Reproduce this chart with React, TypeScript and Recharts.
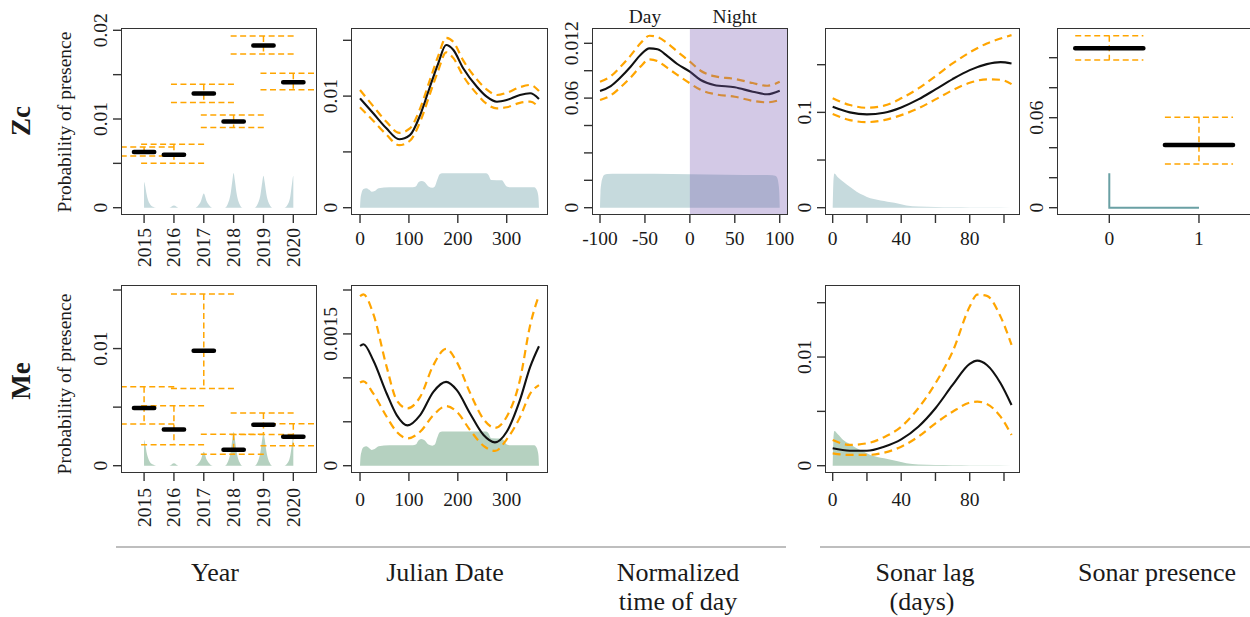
import React from 'react';
import { ComposedChart, Line, Area, XAxis, YAxis, ReferenceArea } from 'recharts';

const FONT = '"Liberation Serif", "Times New Roman", serif';
const INK = '#1a1a1a';
const ORANGE = '#FFA500';
const ZC_FILL = '#c6dadd';
const ME_FILL = '#b5d1c0';
const TEAL_LINE = '#6aa0a4';

// ---------------- Year (factor) ----------------
const years = [2015, 2016, 2017, 2018, 2019, 2020];
const yearLabels = ['2015', '2016', '2017', '2018', '2019', '2020'];
const zcYearFit = [0.00627, 0.00597, 0.01288, 0.00973, 0.01829, 0.01415];
const zcYearUp = [0.00684, 0.00714, 0.01393, 0.01044, 0.01937, 0.01517];
const zcYearLo = [0.00582, 0.005, 0.01187, 0.00905, 0.01734, 0.01329];
const meYearFit = [0.00492, 0.0031, 0.00981, 0.00137, 0.0035, 0.00247];
const meYearUp = [0.00674, 0.00512, 0.01465, 0.00268, 0.0045, 0.00358];
const meYearLo = [0.00356, 0.00179, 0.0066, 0.00097, 0.00266, 0.0017];

const yearDensX = [2014.999, 2015, 2015.04, 2015.08, 2015.13, 2015.2, 2015.3, 2015.4, 2015.85, 2016, 2016.15, 2016.7, 2016.8, 2016.9, 2017, 2017.1, 2017.2, 2017.3, 2017.7, 2017.8, 2017.9, 2017.96, 2018, 2018.04, 2018.1, 2018.2, 2018.3, 2018.7, 2018.8, 2018.9, 2018.96, 2019, 2019.04, 2019.1, 2019.2, 2019.3, 2019.7, 2019.8, 2019.9, 2019.96, 2020, 2020.001];
const zcYearDensY = [0, 0.0029, 0.0024, 0.0016, 0.0009, 0.0004, 0.0001, 0, 0, 0.00025, 0, 0, 0.0002, 0.0007, 0.0016, 0.0007, 0.0002, 0, 0, 0.0004, 0.0016, 0.0031, 0.0039, 0.0031, 0.0016, 0.0004, 0, 0, 0.0004, 0.0015, 0.0029, 0.0036, 0.0029, 0.0015, 0.0004, 0, 0, 0.0003, 0.0013, 0.0028, 0.0036, 0];
const meYearDensY = [0, 0.0022, 0.0018, 0.0012, 0.0007, 0.0003, 0.0001, 0, 0, 0.0002, 0, 0, 0.00015, 0.0005, 0.0012, 0.0005, 0.00015, 0, 0, 0.0003, 0.0012, 0.0023, 0.0029, 0.0023, 0.0012, 0.0003, 0, 0, 0.0003, 0.0012, 0.0023, 0.0028, 0.0023, 0.0012, 0.0003, 0, 0, 0.0002, 0.0009, 0.0019, 0.0025, 0];

// ---------------- Julian date ----------------
const julX = [0, 27, 54, 80, 102, 123, 143, 160, 176, 191, 211, 239, 259, 280, 300, 327, 348, 366];
const zcJulFit = [0.0098, 0.00846, 0.00711, 0.00613, 0.0065, 0.0083, 0.01084, 0.01294, 0.01458, 0.01413, 0.01249, 0.01084, 0.00995, 0.0095, 0.00965, 0.0101, 0.01025, 0.00974];
const zcJulUp = [0.01055, 0.0091, 0.0077, 0.0067, 0.0071, 0.0089, 0.01145, 0.0136, 0.01522, 0.01485, 0.0132, 0.0115, 0.0106, 0.0101, 0.0103, 0.0108, 0.011, 0.01045];
const zcJulLo = [0.009, 0.0078, 0.00655, 0.0056, 0.006, 0.0077, 0.0102, 0.0123, 0.01392, 0.0134, 0.0118, 0.0102, 0.0093, 0.0089, 0.009, 0.0094, 0.0095, 0.009];

const meJulX = [0, 7, 27, 54.5, 75, 97, 123, 150, 176, 198, 225, 252.6, 276, 300, 327, 348, 366];
const meJulFit = [0.001363, 0.001383, 0.0012, 0.000822, 0.000576, 0.000459, 0.000576, 0.000841, 0.000954, 0.00086, 0.000595, 0.000349, 0.000266, 0.000386, 0.000746, 0.001125, 0.00136];
const meJulUp = [0.00193, 0.00195, 0.00173, 0.001125, 0.000746, 0.000652, 0.000784, 0.001144, 0.00133, 0.00118, 0.00083, 0.00053, 0.00043, 0.000557, 0.000974, 0.0016, 0.00194];
const meJulLo = [0.000947, 0.00096, 0.000822, 0.000557, 0.000386, 0.000311, 0.000386, 0.000576, 0.000678, 0.000613, 0.000406, 0.000227, 0.000168, 0.0003, 0.00055, 0.00082, 0.000917];

const julDensX = [0, 1, 3, 7, 13, 19, 24, 30, 38, 60, 108, 114, 120, 126, 132, 140, 148, 153, 158, 163, 168, 258, 263, 268, 290, 295, 300, 306, 356, 360, 363, 365, 366];
const zcJulDensY = [0, 0.0008, 0.0013, 0.00168, 0.00175, 0.0016, 0.00143, 0.0015, 0.00175, 0.00183, 0.00183, 0.0019, 0.0023, 0.00239, 0.0023, 0.0019, 0.00179, 0.0019, 0.0025, 0.003, 0.00308, 0.00308, 0.0029, 0.00248, 0.00245, 0.0022, 0.0019, 0.00183, 0.00183, 0.0017, 0.0014, 0.0009, 0];
const meJulDensY = [0, 0.0001, 0.00016, 0.00021, 0.00022, 0.0002, 0.00018, 0.00019, 0.00022, 0.000232, 0.000232, 0.00024, 0.00029, 0.000305, 0.00029, 0.00024, 0.000228, 0.00024, 0.00032, 0.00038, 0.000388, 0.000388, 0.000366, 0.000313, 0.00031, 0.00028, 0.00024, 0.000232, 0.000232, 0.000215, 0.000177, 0.000114, 0];

// ---------------- Normalized time of day ----------------
const todX = [-100, -88, -77, -66, -55, -45, -36, -25, -14, 0, 12, 27, 50, 70, 86, 100];
const zcTodFit = [0.00852, 0.00888, 0.00952, 0.01029, 0.01115, 0.01163, 0.01156, 0.01107, 0.01049, 0.00993, 0.00932, 0.00896, 0.00879, 0.00847, 0.00828, 0.00854];
const zcTodUp = [0.0092, 0.0096, 0.0103, 0.0111, 0.012, 0.01255, 0.01245, 0.012, 0.0114, 0.01066, 0.01, 0.0096, 0.0094, 0.0091, 0.0089, 0.0092];
const zcTodLo = [0.00786, 0.0082, 0.0088, 0.0095, 0.0103, 0.01083, 0.0107, 0.0102, 0.0097, 0.00908, 0.0086, 0.0083, 0.0081, 0.0078, 0.00769, 0.00786];
const todDensX = [-100, -99.5, -98.5, -97, -95, -92, -80, -40, 0, 40, 80, 92, 95, 97, 98.5, 99.5, 100];
const zcTodDensY = [0, 0.0011, 0.0018, 0.0022, 0.0024, 0.00246, 0.00248, 0.00248, 0.00245, 0.0024, 0.00238, 0.00237, 0.00233, 0.0022, 0.0018, 0.0011, 0];
const nightStart = 0;

// ---------------- Sonar lag ----------------
const lagX = [0, 10, 20, 30, 40, 50, 60, 70, 80, 90, 98, 104.4];
const zcLagFit = [0.1058, 0.1, 0.0979, 0.0996, 0.1052, 0.1136, 0.1241, 0.1349, 0.1443, 0.1506, 0.1527, 0.1513];
const zcLagUp = [0.1147, 0.1077, 0.1048, 0.107, 0.1147, 0.1251, 0.138, 0.1513, 0.1629, 0.1723, 0.1775, 0.181];
const zcLagLo = [0.0982, 0.0919, 0.0898, 0.0919, 0.0971, 0.1042, 0.1136, 0.1233, 0.131, 0.1346, 0.1342, 0.1296];
const meLagX = [0, 10, 20, 30, 40, 50, 60, 70, 80, 84.4, 90, 98, 104.4];
const meLagFit = [0.0016, 0.00138, 0.00138, 0.00175, 0.00243, 0.00359, 0.00529, 0.00743, 0.00937, 0.00967, 0.00927, 0.00759, 0.00559];
const meLagUp = [0.00237, 0.00191, 0.00206, 0.00262, 0.00359, 0.00529, 0.00759, 0.0105, 0.01464, 0.01575, 0.01563, 0.01372, 0.01112];
const meLagLo = [0.00114, 0.00099, 0.00099, 0.0012, 0.00175, 0.00267, 0.0039, 0.00497, 0.0058, 0.00589, 0.00568, 0.00451, 0.00283];
const lagDensX = [0, 0.5, 1, 3, 6, 10, 14, 18, 22, 26, 30, 34, 38, 43, 50, 60, 70, 80, 90, 104.4];
const zcLagDensY = [0, 0.03, 0.036, 0.032, 0.0275, 0.022, 0.0168, 0.013, 0.0098, 0.0084, 0.007, 0.0057, 0.0044, 0.0024, 0.0013, 0.0008, 0.0005, 0.0003, 0.0001, 0];
const meLagDensY = [0, 0.0027, 0.0032, 0.0029, 0.0024, 0.002, 0.0016, 0.0013, 0.00098, 0.0008, 0.00068, 0.00055, 0.0004, 0.00022, 0.0001, 0.00006, 0.00004, 0.00002, 0.00001, 0];

// ---------------- Sonar presence (factor) ----------------
const presLevels = [0, 1];
const presLabels = ['0', '1'];
const zcPresFit = [0.1063, 0.0418];
const zcPresUp = [0.1147, 0.0603];
const zcPresLo = [0.0985, 0.0291];
const presDensX = [0, 0, 1];
const presDensY = [0.0229, 0, 0];

// ---------------- helpers ----------------
type Row = { x: number; y: number | null };
const rows = (xs: number[], ys: number[]): Row[] => xs.map((x, i) => ({ x, y: ys[i] }));
const ciRows = (xs: number[], up: number[], lo: number[], half: number): Row[] => {
  const r: Row[] = [];
  xs.forEach((x, i) => {
    r.push({ x: x - half, y: up[i] }, { x: x + half, y: up[i] }, { x: x + half, y: null });
    r.push({ x, y: up[i] }, { x, y: lo[i] }, { x, y: null });
    r.push({ x: x - half, y: lo[i] }, { x: x + half, y: lo[i] }, { x: x + half, y: null });
  });
  return r;
};
const barRows = (xs: number[], fit: number[], half: number): Row[] => {
  const r: Row[] = [];
  xs.forEach((x, i) => {
    r.push({ x: x - half, y: fit[i] }, { x: x + half, y: fit[i] }, { x: x + half, y: null });
  });
  return r;
};

const ML = 50, MR = 10, MT = 30, XH = 70;

type PanelProps = {
  left: number; top: number; right: number; bottom: number;
  xDomain: [number, number]; yDomain: [number, number];
  xTicks: number[]; xLabels: string[];
  yTicks: number[]; yLabels: string[];
  rotateX?: boolean; xGap: number;
  topTicks?: number[]; topLabels?: string[];
  overlay?: React.ReactNode;
  children: React.ReactNode;
};

function Panel(p: PanelProps) {
  const boxW = p.right - p.left;
  const boxH = p.bottom - p.top;
  const W = ML + boxW + MR;
  const H = MT + boxH + XH;
  const yTick = (props: any) => {
    const i = p.yTicks.indexOf(props.payload.value);
    const t = i >= 0 ? p.yLabels[i] : '';
    const bx = ML - 15;
    if (!t) return <g />;
    return (
      <text x={bx} y={props.y} transform={`rotate(-90 ${bx} ${props.y})`} textAnchor="middle"
        fontFamily={FONT} fontSize={19.5} fill={INK}>{t}</text>
    );
  };
  const xTick = (props: any) => {
    const i = p.xTicks.indexOf(props.payload.value);
    const t = i >= 0 ? p.xLabels[i] : '';
    if (!t) return <g />;
    if (p.rotateX) {
      const bx = props.x + 6.5;
      const by = MT + boxH + p.xGap;
      return (
        <text x={bx} y={by} transform={`rotate(-90 ${bx} ${by})`} textAnchor="end"
          fontFamily={FONT} fontSize={19.5} fill={INK}>{t}</text>
      );
    }
    return (
      <text x={props.x} y={MT + boxH + p.xGap} textAnchor="middle" fontFamily={FONT} fontSize={19.5} fill={INK}>{t}</text>
    );
  };
  const topTick = (props: any) => {
    const ticks = p.topTicks || [];
    const i = ticks.indexOf(props.payload.value);
    const t = i >= 0 && p.topLabels ? p.topLabels[i] : '';
    return <text x={props.x} y={MT - 6} textAnchor="middle" fontFamily={FONT} fontSize={19.5} fill={INK}>{t}</text>;
  };
  return (
    <div style={{ position: 'absolute', left: p.left - ML, top: p.top - MT, width: W, height: H }}>
      <ComposedChart width={W} height={H} margin={{ top: p.topTicks ? 0 : MT, right: MR, left: 0, bottom: 0 }}>
        <XAxis type="number" dataKey="x" domain={p.xDomain} allowDataOverflow ticks={p.xTicks} interval={0}
          tickSize={9} axisLine={false} tickLine={{ stroke: '#333', strokeWidth: 1.4 }} height={XH} tick={xTick} />
        {p.topTicks && (
          <XAxis xAxisId="top" orientation="top" type="number" dataKey="x" domain={p.xDomain} allowDataOverflow
            ticks={p.topTicks} interval={0} axisLine={false} tickLine={false} height={MT} tick={topTick} />
        )}
        <YAxis type="number" domain={p.yDomain} allowDataOverflow ticks={p.yTicks} interval={0} width={ML}
          tickSize={9} axisLine={false} tickLine={{ stroke: '#333', strokeWidth: 1.4 }} tick={yTick} />
        {p.children}
      </ComposedChart>
      {p.overlay && (
        <div style={{ position: 'absolute', left: 0, top: 0, pointerEvents: 'none' }}>
          <ComposedChart width={W} height={H} margin={{ top: MT, right: MR, left: 0, bottom: 0 }}>
            <XAxis type="number" dataKey="x" domain={p.xDomain} allowDataOverflow ticks={p.xTicks}
              tick={false} tickLine={false} axisLine={false} height={XH} />
            <YAxis type="number" domain={p.yDomain} allowDataOverflow ticks={p.yTicks}
              tick={false} tickLine={false} axisLine={false} width={ML} />
            {p.overlay}
          </ComposedChart>
        </div>
      )}
      <div style={{
        position: 'absolute', left: ML - 0.75, top: MT - 0.75, width: boxW + 1.5, height: boxH + 1.5,
        border: '1.5px solid #333', boxSizing: 'border-box', pointerEvents: 'none'
      }} />
    </div>
  );
}

const densArea = (data: Row[], color: string) => (
  <Area data={data} dataKey="y" type="monotone" stroke="none" fill={color} fillOpacity={1}
    baseValue={0} isAnimationActive={false} dot={false} activeDot={false} />
);
const fitLine = (data: Row[]) => (
  <Line data={data} dataKey="y" type="monotone" stroke="#111" strokeWidth={2.1} dot={false}
    activeDot={false} isAnimationActive={false} />
);
const ciLine = (data: Row[]) => (
  <Line data={data} dataKey="y" type="monotone" stroke={ORANGE} strokeWidth={2.2} strokeDasharray="8 5"
    dot={false} activeDot={false} isAnimationActive={false} />
);
const factorCi = (data: Row[]) => (
  <Line data={data} dataKey="y" type="linear" stroke={ORANGE} strokeWidth={1.5} strokeDasharray="6 3.5"
    dot={false} activeDot={false} isAnimationActive={false} connectNulls={false} />
);
const factorBar = (data: Row[]) => (
  <Line data={data} dataKey="y" type="linear" stroke="#000" strokeWidth={4.5} strokeLinecap="round"
    dot={false} activeDot={false} isAnimationActive={false} connectNulls={false} />
);

const YEAR_DOM: [number, number] = [2014.26, 2020.76];
const JUL_DOM: [number, number] = [-16.4, 382.4];
const TOD_DOM: [number, number] = [-107.8, 108.1];
const LAG_DOM: [number, number] = [-3.9, 108.76];
const PRES_DOM: [number, number] = [-0.572, 1.569];
const TOD_Y: [number, number] = [-0.00046, 0.013044];

export default function App() {
  const txt = { fontFamily: FONT, fill: INK } as const;
  return (
    <div style={{ position: 'absolute', left: 0, top: 0, width: 1250, height: 617, overflow: 'hidden', background: '#fff' }}>
      <svg width={1250} height={617} style={{ position: 'absolute', left: 0, top: 0 }}>
        <text x={30} y={121} transform="rotate(-90 30 121)" textAnchor="middle" fontSize={27} fontWeight="bold" {...txt}>Zc</text>
        <text x={30} y={381} transform="rotate(-90 30 381)" textAnchor="middle" fontSize={27} fontWeight="bold" {...txt}>Me</text>
        <text x={71} y={122} transform="rotate(-90 71 122)" textAnchor="middle" fontSize={19.5} {...txt}>Probability of presence</text>
        <text x={71} y={384} transform="rotate(-90 71 384)" textAnchor="middle" fontSize={19.5} {...txt}>Probability of presence</text>
        <line x1={116} y1={547} x2={786} y2={547} stroke="#a8a8a8" strokeWidth={1.5} />
        <line x1={820} y1={547} x2={1250} y2={547} stroke="#a8a8a8" strokeWidth={1.5} />
        <text x={215} y={581} textAnchor="middle" fontSize={26} {...txt}>Year</text>
        <text x={445} y={581} textAnchor="middle" fontSize={26} {...txt}>Julian Date</text>
        <text x={678} y={581} textAnchor="middle" fontSize={26} {...txt}>Normalized</text>
        <text x={678} y={610} textAnchor="middle" fontSize={26} {...txt}>time of day</text>
        <text x={925} y={581} textAnchor="middle" fontSize={26} {...txt}>Sonar lag</text>
        <text x={922} y={610} textAnchor="middle" fontSize={26} {...txt}>(days)</text>
        <text x={1157} y={581} textAnchor="middle" fontSize={26} {...txt}>Sonar presence</text>
      </svg>

      {/* Zc Year */}
      <Panel left={122} top={29} right={316} bottom={214} xDomain={YEAR_DOM} yDomain={[-0.00071, 0.020147]}
        xTicks={years} xLabels={yearLabels} rotateX xGap={14}
        yTicks={[0, 0.005, 0.01, 0.015, 0.02]} yLabels={['0', '', '0.01', '', '0.02']}>
        {densArea(rows(yearDensX, zcYearDensY), ZC_FILL)}
        {factorCi(ciRows(years, zcYearUp, zcYearLo, 1.1))}
        {factorBar(barRows(years, zcYearFit, 0.34))}
      </Panel>

      {/* Zc Julian */}
      <Panel left={352} top={29} right={547} bottom={214} xDomain={JUL_DOM} yDomain={[-0.000564, 0.016013]}
        xTicks={[0, 100, 200, 300]} xLabels={['0', '100', '200', '300']} xGap={31}
        yTicks={[0, 0.005, 0.01, 0.015]} yLabels={['0', '', '0.01', '']}>
        {densArea(rows(julDensX, zcJulDensY), ZC_FILL)}
        {ciLine(rows(julX, zcJulUp))}
        {ciLine(rows(julX, zcJulLo))}
        {fitLine(rows(julX, zcJulFit))}
      </Panel>

      {/* Zc time of day */}
      <Panel left={593} top={29} right={787} bottom={214} xDomain={TOD_DOM} yDomain={TOD_Y}
        xTicks={[-100, -50, 0, 50, 100]} xLabels={['-100', '-50', '0', '50', '100']} xGap={31}
        yTicks={[0, 0.002, 0.004, 0.006, 0.008, 0.01, 0.012]} yLabels={['0', '', '', '', '0.06', '', '0.012']}
        topTicks={[-50, 50]} topLabels={['Day', 'Night']}
        overlay={
          <ReferenceArea x1={nightStart} x2={TOD_DOM[1]} y1={TOD_Y[0]} y2={TOD_Y[1]} fill="rgb(120,90,180)"
            fillOpacity={0.33} stroke="none" ifOverflow="hidden" />
        }>
        {densArea(rows(todDensX, zcTodDensY), ZC_FILL)}
        {ciLine(rows(todX, zcTodUp))}
        {ciLine(rows(todX, zcTodLo))}
        {fitLine(rows(todX, zcTodFit))}
      </Panel>

      {/* Zc sonar lag */}
      <Panel left={826} top={29} right={1019} bottom={214} xDomain={LAG_DOM} yDomain={[-0.00661, 0.18745]}
        xTicks={[0, 20, 40, 60, 80, 100]} xLabels={['0', '', '40', '', '80', '']} xGap={31}
        yTicks={[0, 0.05, 0.1, 0.15]} yLabels={['0', '', '0.1', '']}>
        {densArea(rows(lagDensX, zcLagDensY), ZC_FILL)}
        {ciLine(rows(lagX, zcLagUp))}
        {ciLine(rows(lagX, zcLagLo))}
        {fitLine(rows(lagX, zcLagFit))}
      </Panel>

      {/* Zc sonar presence */}
      <Panel left={1058} top={29} right={1250} bottom={214} xDomain={PRES_DOM} yDomain={[-0.0042, 0.11913]}
        xTicks={presLevels} xLabels={presLabels} xGap={31}
        yTicks={[0, 0.02, 0.04, 0.06, 0.08, 0.1]} yLabels={['0', '', '', '0.06', '', '']}>
        <Line data={rows(presDensX, presDensY)} dataKey="y" type="linear" stroke={TEAL_LINE} strokeWidth={2}
          dot={false} activeDot={false} isAnimationActive={false} />
        {factorCi(ciRows(presLevels, zcPresUp, zcPresLo, 0.38))}
        {factorBar(barRows(presLevels, zcPresFit, 0.38))}
      </Panel>

      {/* Me Year */}
      <Panel left={122} top={286} right={316} bottom={472} xDomain={YEAR_DOM} yDomain={[-0.000538, 0.015342]}
        xTicks={years} xLabels={yearLabels} rotateX xGap={16}
        yTicks={[0, 0.005, 0.01, 0.015]} yLabels={['0', '', '0.01', '']}>
        {densArea(rows(yearDensX, meYearDensY), ME_FILL)}
        {factorCi(ciRows(years, meYearUp, meYearLo, 1.1))}
        {factorBar(barRows(years, meYearFit, 0.34))}
      </Panel>

      {/* Me Julian */}
      <Panel left={352} top={286} right={547} bottom={472} xDomain={JUL_DOM} yDomain={[-0.0000717, 0.0020455]}
        xTicks={[0, 100, 200, 300]} xLabels={['0', '100', '200', '300']} xGap={34}
        yTicks={[0, 0.0005, 0.001, 0.0015, 0.002]} yLabels={['0', '', '', '0.0015', '']}>
        {densArea(rows(julDensX, meJulDensY), ME_FILL)}
        {ciLine(rows(meJulX, meJulUp))}
        {ciLine(rows(meJulX, meJulLo))}
        {fitLine(rows(meJulX, meJulFit))}
      </Panel>

      {/* Me sonar lag */}
      <Panel left={826} top={286} right={1019} bottom={472} xDomain={LAG_DOM} yDomain={[-0.000579, 0.016537]}
        xTicks={[0, 20, 40, 60, 80, 100]} xLabels={['0', '', '40', '', '80', '']} xGap={34}
        yTicks={[0, 0.005, 0.01, 0.015]} yLabels={['0', '', '0.01', '']}>
        {densArea(rows(lagDensX, meLagDensY), ME_FILL)}
        {ciLine(rows(meLagX, meLagUp))}
        {ciLine(rows(meLagX, meLagLo))}
        {fitLine(rows(meLagX, meLagFit))}
      </Panel>
    </div>
  );
}
